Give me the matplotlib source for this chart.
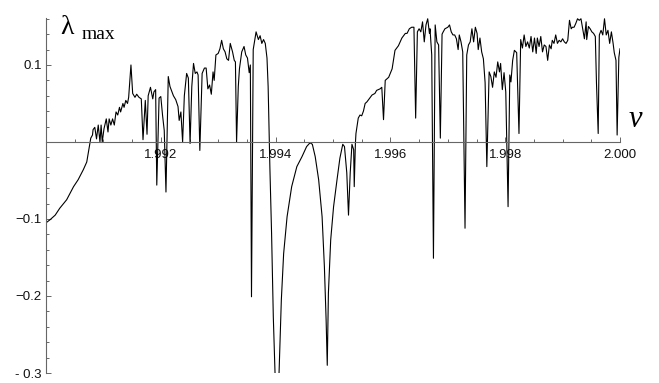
import matplotlib
matplotlib.use("Agg")
import matplotlib.pyplot as plt
from matplotlib.ticker import MultipleLocator, FixedLocator

# control parameter nu and largest Lyapunov exponent
nu = [
    1.99000, 1.99007, 1.99016, 1.99024, 1.99036, 1.99048, 1.99056, 1.99065,
    1.99071, 1.99075, 1.99078, 1.99081, 1.99082, 1.99085, 1.99088, 1.99091,
    1.99094, 1.99096, 1.99098, 1.99101, 1.99105, 1.99108, 1.99110, 1.99113,
    1.99116, 1.99119, 1.99122, 1.99125, 1.99128, 1.99130, 1.99134, 1.99136,
    1.99139, 1.99142, 1.99144, 1.99148, 1.99151, 1.99155, 1.99158, 1.99162,
    1.99166, 1.99169, 1.99173, 1.99176, 1.99178, 1.99182, 1.99186, 1.99188,
    1.99191, 1.99193, 1.99197, 1.99200, 1.99203, 1.99206, 1.99209, 1.99213,
    1.99216, 1.99219, 1.99222, 1.99226, 1.99230, 1.99232, 1.99235, 1.99238,
    1.99241, 1.99245, 1.99248, 1.99251, 1.99254, 1.99257, 1.99260, 1.99263,
    1.99265, 1.99268, 1.99272, 1.99276, 1.99279, 1.99282, 1.99285, 1.99288,
    1.99291, 1.99293, 1.99296, 1.99300, 1.99303, 1.99306, 1.99309, 1.99312,
    1.99315, 1.99318, 1.99321, 1.99325, 1.99328, 1.99330, 1.99332, 1.99335,
    1.99337, 1.99341, 1.99345, 1.99348, 1.99351, 1.99354, 1.99356, 1.99358,
    1.99361, 1.99366, 1.99370, 1.99373, 1.99376, 1.99379, 1.99382, 1.99385,
    1.99387, 1.99390, 1.99393, 1.99396, 1.99399, 1.99401, 1.99404, 1.99406,
    1.99410, 1.99414, 1.99420, 1.99428, 1.99437, 1.99446, 1.99454, 1.99460,
    1.99464, 1.99469, 1.99475, 1.99481, 1.99485, 1.99488, 1.99490, 1.99492,
    1.99496, 1.99501, 1.99507, 1.99512, 1.99517, 1.99520, 1.99524, 1.99527,
    1.99530, 1.99533, 1.99536, 1.99537, 1.99539, 1.99540, 1.99544, 1.99547,
    1.99550, 1.99553, 1.99556, 1.99559, 1.99565, 1.99568, 1.99573, 1.99576,
    1.99582, 1.99585, 1.99588, 1.99591, 1.99597, 1.99603, 1.99608, 1.99614,
    1.99620, 1.99626, 1.99629, 1.99633, 1.99637, 1.99641, 1.99644, 1.99647,
    1.99650, 1.99653, 1.99656, 1.99659, 1.99662, 1.99665, 1.99668, 1.99669,
    1.99672, 1.99675, 1.99678, 1.99681, 1.99684, 1.99687, 1.99690, 1.99692,
    1.99695, 1.99700, 1.99703, 1.99706, 1.99709, 1.99712, 1.99715, 1.99718,
    1.99720, 1.99723, 1.99726, 1.99730, 1.99733, 1.99736, 1.99739, 1.99742,
    1.99745, 1.99748, 1.99751, 1.99753, 1.99756, 1.99759, 1.99762, 1.99765,
    1.99768, 1.99772, 1.99775, 1.99778, 1.99781, 1.99784, 1.99787, 1.99790,
    1.99792, 1.99795, 1.99798, 1.99801, 1.99805, 1.99808, 1.99810, 1.99813,
    1.99816, 1.99820, 1.99824, 1.99827, 1.99830, 1.99833, 1.99836, 1.99839,
    1.99842, 1.99845, 1.99848, 1.99851, 1.99854, 1.99856, 1.99859, 1.99862,
    1.99865, 1.99868, 1.99871, 1.99874, 1.99877, 1.99880, 1.99882, 1.99885,
    1.99888, 1.99891, 1.99894, 1.99897, 1.99900, 1.99903, 1.99906, 1.99909,
    1.99912, 1.99915, 1.99917, 1.99920, 1.99923, 1.99926, 1.99929, 1.99932,
    1.99935, 1.99938, 1.99941, 1.99942, 1.99945, 1.99948, 1.99951, 1.99954,
    1.99957, 1.99959, 1.99962, 1.99964, 1.99967, 1.99970, 1.99973, 1.99976,
    1.99979, 1.99982, 1.99985, 1.99988, 1.99990, 1.99993, 1.99995, 1.99998,
    2.00000,
]
lam = [
    -0.105, -0.101, -0.095, -0.086, -0.075, -0.058, -0.049, -0.036,
    -0.026, -0.008, 0.005, 0.009, 0.016, 0.019, 0.004, 0.022,
    0.000, 0.022, 0.000, 0.017, 0.030, 0.013, 0.030, 0.022,
    0.030, 0.022, 0.039, 0.035, 0.045, 0.039, 0.050, 0.045,
    0.054, 0.050, 0.058, 0.100, 0.063, 0.058, 0.062, 0.058,
    0.056, 0.003, 0.054, 0.010, 0.060, 0.071, 0.056, 0.065,
    0.068, -0.056, 0.057, 0.059, 0.035, 0.015, -0.065, 0.085,
    0.072, 0.066, 0.060, 0.055, 0.046, 0.028, 0.039, 0.000,
    0.060, 0.089, 0.083, -0.002, 0.072, 0.102, 0.089, 0.091,
    0.087, -0.011, 0.089, 0.096, 0.096, 0.069, 0.074, 0.062,
    0.091, 0.080, 0.113, 0.115, 0.121, 0.132, 0.121, 0.117,
    0.108, 0.106, 0.128, 0.117, 0.106, 0.104, 0.000, 0.072,
    0.095, 0.117, 0.124, 0.113, 0.109, 0.090, 0.100, -0.201,
    0.120, 0.143, 0.133, 0.138, 0.128, 0.133, 0.128, 0.109,
    0.072, -0.032, -0.119, -0.227, -0.300, -0.400, -0.400, -0.300,
    -0.205, -0.145, -0.097, -0.058, -0.032, -0.019, -0.006, -0.001,
    -0.003, -0.019, -0.049, -0.097, -0.162, -0.231, -0.290, -0.196,
    -0.127, -0.084, -0.049, -0.021, -0.003, -0.006, -0.040, -0.095,
    -0.040, -0.003, -0.010, -0.058, -0.002, 0.011, 0.031, 0.035,
    0.034, 0.040, 0.050, 0.052, 0.058, 0.061, 0.063, 0.067,
    0.069, 0.071, 0.029, 0.080, 0.084, 0.095, 0.119, 0.125,
    0.135, 0.141, 0.141, 0.147, 0.149, 0.149, 0.031, 0.143,
    0.147, 0.143, 0.156, 0.130, 0.152, 0.160, 0.141, 0.147,
    0.113, -0.151, 0.152, 0.130, 0.126, 0.005, 0.140, 0.143,
    0.147, 0.149, 0.152, 0.143, 0.139, 0.139, 0.134, 0.120,
    0.139, 0.130, 0.117, -0.112, 0.113, 0.126, 0.130, 0.147,
    0.130, 0.149, 0.141, 0.120, 0.135, 0.117, 0.108, 0.077,
    -0.032, 0.091, 0.085, 0.071, 0.091, 0.084, 0.104, 0.091,
    0.102, 0.068, 0.090, 0.065, -0.084, 0.087, 0.078, 0.106,
    0.119, 0.116, 0.011, 0.133, 0.122, 0.139, 0.124, 0.130,
    0.122, 0.137, 0.117, 0.135, 0.115, 0.135, 0.124, 0.137,
    0.117, 0.126, 0.124, 0.106, 0.126, 0.121, 0.132, 0.128,
    0.139, 0.128, 0.132, 0.130, 0.134, 0.130, 0.128, 0.132,
    0.158, 0.147, 0.149, 0.149, 0.154, 0.160, 0.158, 0.160,
    0.147, 0.134, 0.156, 0.133, 0.150, 0.147, 0.143, 0.141,
    0.137, 0.077, 0.011, 0.139, 0.145, 0.139, 0.160, 0.139,
    0.145, 0.128, 0.143, 0.128, 0.116, 0.106, 0.009, 0.110,
    0.121,
]

x_major = [1.992, 1.994, 1.996, 1.998, 2.000]
x_labels = ["1.992", "1.994", "1.996", "1.998", "2.000"]
y_major = [-0.3, -0.2, -0.1, 0.1]
y_labels = ["- 0.3", "\u22120.2", "\u22120.1", "0.1"]

W, H = 659, 383
fig = plt.figure(figsize=(W / 100, H / 100), dpi=100)
# axes box: x 1.990 -> px 46, 2.000 -> px 620 ; y -0.3 -> px 373, top px 18
ax = fig.add_axes([46 / W, (H - 373) / H, 574 / W, 355 / H])
ax.plot(nu, lam, color="black", lw=0.8)
ax.set_xlim(1.990, 2.000)
ax.set_ylim(-0.3, 0.161)

axis_col = "#666666"
for side in ["top", "right"]:
    ax.spines[side].set_visible(False)
ax.spines["bottom"].set_position(("data", 0))
ax.spines["left"].set_position(("data", 1.990))
for side in ["bottom", "left"]:
    ax.spines[side].set_color(axis_col)
    ax.spines[side].set_linewidth(0.8)

ax.xaxis.set_major_locator(FixedLocator(x_major))
ax.set_xticklabels(x_labels)
ax.xaxis.set_minor_locator(MultipleLocator(0.0005))
ax.yaxis.set_major_locator(FixedLocator(y_major))
ax.set_yticklabels(y_labels)
ax.yaxis.set_minor_locator(MultipleLocator(0.02))

ax.tick_params(which="both", direction="in", color=axis_col, width=0.7)
ax.tick_params(which="major", length=3.5)
ax.tick_params(axis="x", which="major", pad=5)
ax.tick_params(axis="y", which="major", pad=3)
ax.tick_params(which="minor", length=2)
for lab in ax.get_xticklabels() + ax.get_yticklabels():
    lab.set_family("Liberation Sans")
    lab.set_fontsize(9.5)
    lab.set_color("#111111")

fig.text(60 / W, 1 - 34 / H, "\u03bb", family="Liberation Serif", fontsize=20)
fig.text(82 / W, 1 - 39 / H, "max", family="Liberation Serif", fontsize=14)
fig.text(629 / W, 1 - 127 / H, "\u03bd", family="Liberation Serif",
         fontsize=22, style="italic")

fig.savefig("out.png", dpi=100)
